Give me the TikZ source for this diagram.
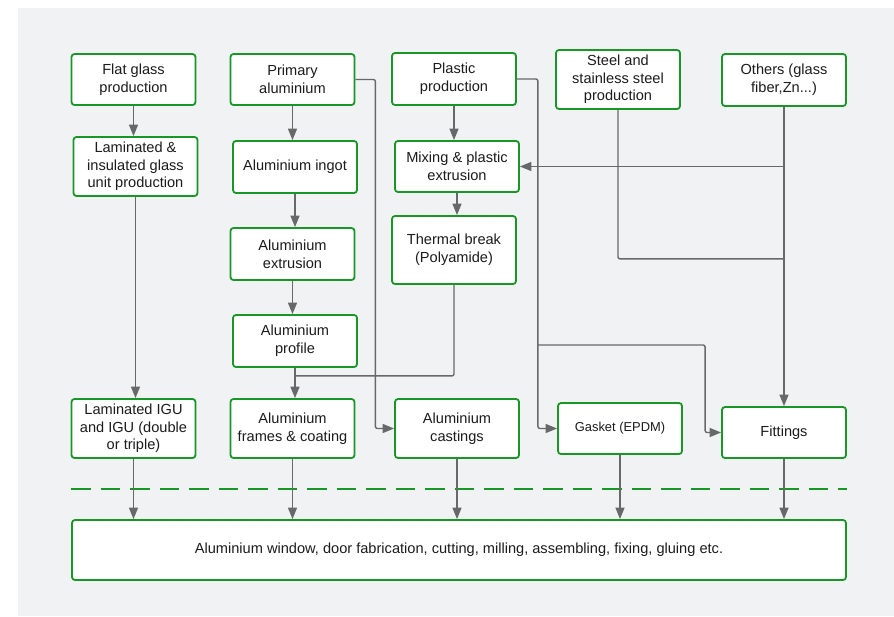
\documentclass[tikz,border=0pt]{standalone}
\usepackage{fontspec}
\setmainfont{Liberation Sans}
\usetikzlibrary{arrows.meta}
\usetikzlibrary{calc,shapes,positioning}
\definecolor{boxgreen}{RGB}{24,150,38}
\definecolor{linegray}{RGB}{104,104,104}
\definecolor{panelgray}{RGB}{241,242,244}
\definecolor{textdark}{RGB}{28,28,28}

\begin{document}
\begin{tikzpicture}[x=1pt,y=-1pt,
    box/.style={draw=boxgreen,line width=1.8pt,rounded corners=3pt,fill=white,align=center,
      inner sep=0pt,text=textdark,font=\fontsize{14.6}{17.7}\selectfont,minimum width=124pt},
    line/.style={draw=linegray,line width=1.4pt,rounded corners=2pt},
    arr/.style={line,-{Triangle[length=11.5pt,width=9pt]}}]
          \useasboundingbox (0,0) rectangle (894,616);
          \fill[white] (0,0) rectangle (894,616);
          \fill[panelgray] (18,8) rectangle (894,616);

          \node[box,minimum height=51pt] (flat) at (133.5,79.5) {Flat glass\\production};
          \node[box,minimum height=51pt] (primary) at (292.5,79.5) {Primary\\aluminium};
          \node[box,minimum height=52pt] (plastic) at (454,79) {Plastic\\production};
          \node[box,minimum height=59pt] (steel) at (618,79.5) {Steel and\\stainless steel\\production};
          \node[box,minimum height=52pt] (others) at (784,80) {Others (glass\\fiber,Zn...)};

          \node[box,minimum height=59pt] (lamin) at (135.5,166.5) {Laminated \&\\insulated glass\\unit production};
          \node[box,minimum height=52pt] (ingot) at (295,167) {Aluminium ingot};
          \node[box,minimum height=51pt] (mixing) at (457,166.5) {Mixing \& plastic\\extrusion};
          \node[box,minimum height=52pt] (alextr) at (292.5,254) {Aluminium\\extrusion};
          \node[box,minimum height=68pt] (thermal) at (454,250) {Thermal break\\(Polyamide)};
          \node[box,minimum height=52pt] (profile) at (295,341) {Aluminium\\profile};

          \node[box,minimum height=59pt] (igu) at (133.5,428.5) {Laminated IGU\\and IGU (double\\or triple)};
          \node[box,minimum height=59pt] (frames) at (292.5,428.5) {Aluminium\\frames \& coating};
          \node[box,minimum height=59pt] (castings) at (457,428.5) {Aluminium\\castings};
          \node[box,minimum height=51pt,font=\fontsize{12.9}{15.5}\selectfont] (gasket) at (620,428.5) {Gasket (EPDM)};
          \node[box,minimum height=51pt] (fittings) at (784,432.5) {Fittings};

          \node[box,minimum height=60pt,minimum width=774pt] (fab) at (459,550) {Aluminium window, door fabrication, cutting, milling, assembling, fixing, gluing etc.};

          \draw[arr] (flat.south) -- (flat.south |- lamin.north);
          \draw[arr] (lamin.south) -- (lamin.south |- igu.north);
          \draw[arr] (primary.south) -- (primary.south |- ingot.north);
          \draw[arr] (ingot.south) -- (ingot.south |- alextr.north);
          \draw[arr] (alextr.south) -- (alextr.south |- profile.north);
          \draw[arr] (profile.south) -- (profile.south |- frames.north);
          \coordinate (tb) at ([yshift=-8pt]profile.south);
          \draw[line] (thermal.south) |- (tb);

          \draw[arr] (primary.east) -- ++(20,0) |- (castings.west);
          \draw[arr] (plastic.south) -- (plastic.south |- mixing.north);
          \draw[arr] (mixing.south) -- (mixing.south |- thermal.north);
          \draw[arr] (plastic.east) -- ++(21,0) coordinate (pj) |- (gasket.west);
          \coordinate (pk) at (pj |- 0,345);
          \draw[arr] (pk) -| ([xshift=-16pt]fittings.west) -- (fittings.west);

          \draw[arr] (others.south) -- (others.south |- fittings.north);
          \draw[arr] (others.south |- mixing.east) -- (mixing.east);
          \draw[line] (steel.south) -- ++(0,149) coordinate (sk) -- (sk -| others.south);

          \draw[boxgreen,line width=2pt,dash pattern=on 19.5pt off 10pt] ([yshift=30pt]fab.north west) -- ([yshift=30pt]fab.north east);
          \foreach \n in {igu,frames,castings,gasket,fittings}
            \draw[arr] (\n.south) -- (\n.south |- fab.north);
        \end{tikzpicture}
\end{document}
